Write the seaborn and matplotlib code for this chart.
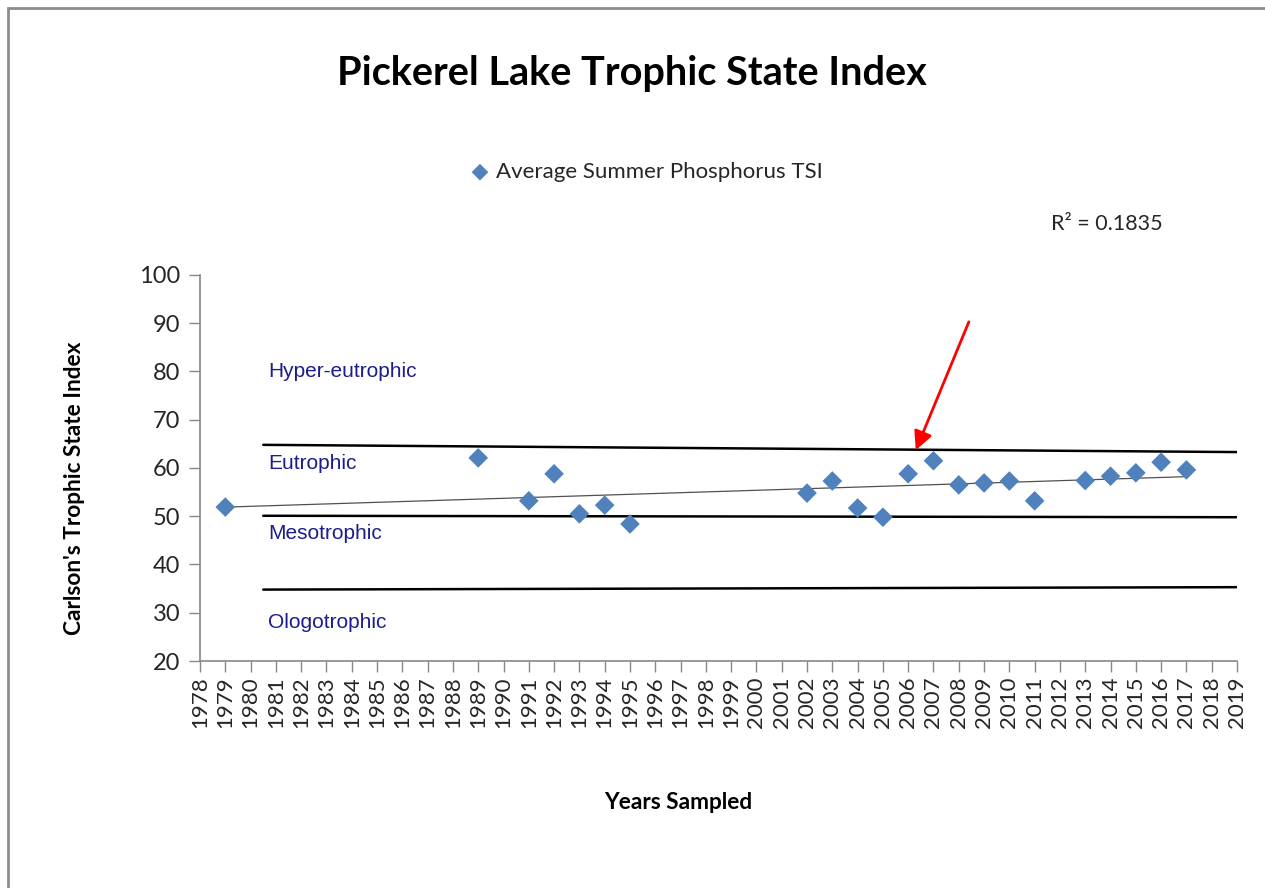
import numpy as np
import pandas as pd
import matplotlib

matplotlib.use("Agg")
import matplotlib.pyplot as plt
import matplotlib.patches as mpatches
import seaborn as sns

# ----------------------------
# data

years = [1979, 1989, 1991, 1992, 1993, 1994, 1995, 2002, 2003, 2004, 2005,
         2006, 2007, 2008, 2009, 2010, 2011, 2013, 2014, 2015, 2016, 2017]
tsi = [51.9, 62.1, 53.2, 58.8, 50.5, 52.3, 48.4, 54.8, 57.3, 51.7, 49.8,
       58.8, 61.5, 56.5, 56.9, 57.3, 53.2, 57.4, 58.3, 59.0, 61.2, 59.6]

# trophic class boundaries (hand drawn in the original, slightly tilted)
bound_x = [1980.5, 2019.0]
bound_upper = [64.8, 63.3]
bound_mid = [50.1, 49.8]
bound_lower = [34.8, 35.3]

zone_names = ['Hyper-eutrophic', 'Eutrophic', 'Mesotrophic', 'Ologotrophic']
zone_y = [80, 61, 46.5, 28]

tick_years = list(range(1978, 2020))
r2_text = 'R² = 0.1835'

df = pd.DataFrame({'Year': years, 'TSI': tsi})

# ----------------------------
# plotting

W, H = 1265, 888
sns.set_style('white')
plt.rcParams['font.family'] = ['Lato', 'DejaVu Sans']
plt.rcParams['text.color'] = 'black'

fig = plt.figure(figsize=(W / 100, H / 100), dpi=100)


def fx(px):
    return px / W


def fy(py):
    return 1 - py / H


ax = fig.add_axes([fx(200), fy(661), fx(1237) - fx(200), fy(275) - fy(661)])

blue = '#4F81BD'
sns.scatterplot(data=df, x='Year', y='TSI', marker='D', s=100, color=blue,
                edgecolor='none', ax=ax, label='Average Summer Phosphorus TSI', zorder=3)
sns.regplot(data=df, x='Year', y='TSI', scatter=False, ci=None, ax=ax,
            line_kws=dict(color='#505050', lw=0.9), truncate=True)

for yy in (bound_upper, bound_mid, bound_lower):
    ax.plot(bound_x, yy, color='black', lw=1.8, zorder=2)

navy = '#1C1C8C'
for name, yv in zip(zone_names, zone_y):
    ax.text(1980.7, yv, name, color=navy, fontsize=15, va='center', ha='left',
            family=['Liberation Sans', 'DejaVu Sans'])

ax.annotate('', xy=(2006.3, 63.7), xytext=(2008.4, 90.3),
            arrowprops=dict(arrowstyle='-|>', color='red', lw=2,
                            mutation_scale=28, shrinkA=0, shrinkB=0))

ax.set_xlim(1978, 2019)
ax.set_ylim(20, 100)
ax.set_xticks(tick_years)
ax.set_xticklabels([str(t) for t in tick_years], rotation=90, fontsize=16)
ax.set_yticks(range(20, 101, 10))
ax.tick_params(axis='y', labelsize=17, length=8, width=1, color='#888888', direction='out',
               left=True, pad=6, labelcolor='#262626')
ax.tick_params(axis='x', length=8, width=1, color='#888888', direction='out', bottom=True,
               pad=3, labelcolor='#262626')
for side in ('top', 'right'):
    ax.spines[side].set_visible(False)
for side in ('left', 'bottom'):
    ax.spines[side].set_color('#888888')
    ax.spines[side].set_linewidth(1.2)
ax.set_xlabel('')
ax.set_ylabel('')

ax.legend(loc='center', bbox_to_anchor=(fx(640), fy(172)), bbox_transform=fig.transFigure,
          frameon=False, fontsize=16, handletextpad=-0.3, markerscale=0.85, labelcolor='#262626')

fig.text(fx(632), fy(73), 'Pickerel Lake Trophic State Index', ha='center', va='center',
         fontsize=28.5, fontweight='bold')
fig.text(fx(1107), fy(224), r2_text, ha='center', va='center', fontsize=15.5, color='#262626')
fig.text(fx(678), fy(802), 'Years Sampled', ha='center', va='center', fontsize=16.3, fontweight='bold')
fig.text(fx(75), fy(488), "Carlson's Trophic State Index", ha='center', va='center',
         rotation=90, fontsize=16.3, fontweight='bold')

# outer chart frame
fig.patches.append(mpatches.Rectangle((fx(8), -0.5), 2, fy(8) + 0.5, transform=fig.transFigure,
                                      fill=False, edgecolor='#8C8C8C', lw=2))

fig.savefig('out.png', dpi=100)
